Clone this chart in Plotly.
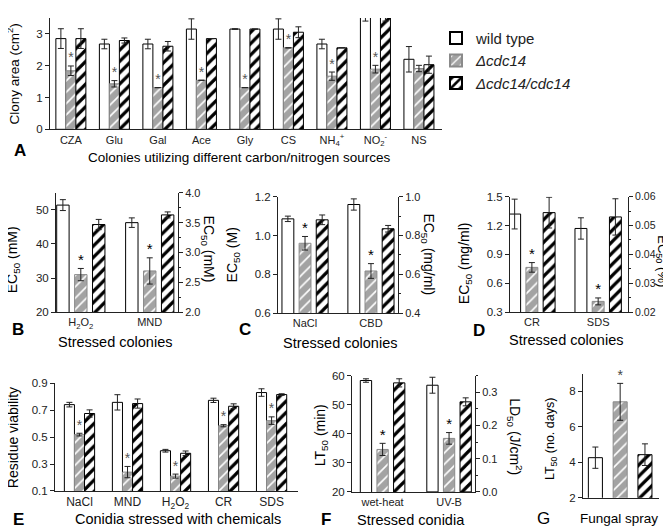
import plotly.graph_objects as go

W, H = 671, 528

# ---- panel A: colony area (cm2) on carbon / nitrogen sources
A_cats = ['CZA', 'Glu', 'Gal', 'Ace', 'Gly', 'CS', 'NH<sub>4</sub><sup>+</sup>', 'NO<sub>2</sub><sup>-</sup>', 'NS']
A_wt = [2.85, 2.68, 2.68, 3.15, 3.15, 3.15, 2.68, 3.6, 2.2]
A_wt_err = [0.31, 0.15, 0.15, 0.32, 0.01, 0.32, 0.15, 0.2, 0.4]
A_mu = [1.84, 1.43, 1.31, 1.54, 1.31, 2.56, 1.67, 1.89, 1.91]
A_mu_err = [0.15, 0.1, None, None, None, None, 0.13, 0.12, 0.1]
A_co = [2.85, 2.79, 2.61, 2.85, 3.15, 3.05, 2.56, 3.6, 2.03]
A_co_err = [0.31, 0.08, 0.15, None, None, 0.17, None, 0.2, 0.27]
A_sig = [1, 1, 1, 1, 1, 1, 1, 1, 0]

# ---- panel B: EC50, H2O2 on left axis (mM), MND on right axis (mM)
B_cats = ['H<sub>2</sub>O<sub>2</sub>', 'MND']
B_wt = [51.4, 3.50]
B_wt_err = [1.6, 0.08]
B_mu = [31.0, 2.69]
B_mu_err = [1.8, 0.22]
B_co = [45.7, 3.63]
B_co_err = [1.5, 0.05]

# ---- panel C: EC50, NaCl on left (M), CBD on right (mg/ml)
C_cats = ['NaCl', 'CBD']
C_wt = [1.086, 0.96]
C_wt_err = [0.014, 0.029]
C_mu = [0.96, 0.617]
C_mu_err = [0.035, 0.038]
C_co = [1.081, 0.835]
C_co_err = [0.025, 0.017]

# ---- panel D: EC50, CR on left (mg/ml), SDS on right (%)
D_cats = ['CR', 'SDS']
D_wt = [1.32, 0.049]
D_wt_err = [0.155, 0.0037]
D_mu = [0.765, 0.0237]
D_mu_err = [0.05, 0.0012]
D_co = [1.335, 0.053]
D_co_err = [0.16, 0.0063]

# ---- panel E: residue viability of conidia
E_cats = ['NaCl', 'MND', 'H<sub>2</sub>O<sub>2</sub>', 'CR', 'SDS']
E_wt = [0.742, 0.759, 0.399, 0.774, 0.832]
E_wt_err = [0.017, 0.057, 0.01, 0.016, 0.028]
E_mu = [0.519, 0.24, 0.21, 0.585, 0.623]
E_mu_err = [0.01, 0.042, 0.015, 0.008, 0.028]
E_co = [0.676, 0.75, 0.38, 0.73, 0.817]
E_co_err = [0.027, 0.034, 0.017, 0.018, 0.006]

# ---- panel F: wet-heat LT50 (min, left), UV-B LD50 (J/cm2, right)
F_cats = ['wet-heat', 'UV-B']
F_wt = [58.3, 0.321]
F_wt_err = [0.6, 0.024]
F_mu = [34.6, 0.161]
F_mu_err = [2.1, 0.0175]
F_co = [57.5, 0.271]
F_co_err = [1.4, 0.012]

# ---- panel G: LT50 (days) after fungal spray
G_wt = [4.26]
G_wt_err = [0.6]
G_mu = [7.41]
G_mu_err = [1.04]
G_co = [4.43]
G_co_err = [0.61]

NAMES = ['wild type', '<i>Δcdc14</i>', '<i>Δcdc14/cdc14</i>']
FONT = 'Liberation Sans, Arial, sans-serif'
INK = '#222222'

WT_STYLE = dict(color='white', line=dict(color='black', width=1))
MU_STYLE = dict(color='#a3a3a3', line=dict(color='#8a8a8a', width=1),
                pattern=dict(shape='/', fgcolor='white', fgopacity=1, size=8, solidity=0.2,
                             fillmode='overlay'))
CO_STYLE = dict(color='white', line=dict(color='black', width=1),
                pattern=dict(shape='/', fgcolor='black', fgopacity=1, size=8, solidity=0.4,
                             fillmode='overlay'))


def px_x(p):
    return p / W


def px_y(p):
    return 1 - p / H


fig = go.Figure()


def add_group(xa, ya, xs, wt, wte, mu, mue, co, coe, sig, w, s,
              legend=False, star_col='black', star_size=15):
    for vals, errs, style, name, k in zip([wt, mu, co], [wte, mue, coe],
                                          [WT_STYLE, MU_STYLE, CO_STYLE], NAMES, [-1, 0, 1]):
        fig.add_trace(go.Bar(
            x=xs, y=vals, width=w, offset=k * s - w / 2, marker=style, name=name,
            showlegend=legend, xaxis=xa, yaxis=ya,
            error_y=dict(type='data', array=errs, color=INK, thickness=1, width=3)))
    sx = [x for x, f in zip(xs, sig) if f]
    sy = [m + (e or 0) for m, e, f in zip(mu, mue, sig) if f]
    fig.add_trace(go.Scatter(
        x=sx, y=sy, mode='text', text=['*'] * len(sx), textposition='top center',
        textfont=dict(size=star_size, color=star_col, family=FONT),
        showlegend=False, xaxis=xa, yaxis=ya, cliponaxis=False, hoverinfo='skip'))


def add_two_axis(xa, ya_l, ya_r, wt, wte, mu, mue, co, coe, w, s):
    # first category belongs to the left axis, second one to the right axis
    add_group(xa, ya_l, [0], wt[:1], wte[:1], mu[:1], mue[:1], co[:1], coe[:1], [1], w, s)
    add_group(xa, ya_r, [1], wt[1:], wte[1:], mu[1:], mue[1:], co[1:], coe[1:], [1], w, s)


add_group('x', 'y', list(range(len(A_cats))), A_wt, A_wt_err, A_mu, A_mu_err, A_co, A_co_err,
          A_sig, 0.23, 0.23, legend=True, star_col='#555555', star_size=14)
add_two_axis('x2', 'y2', 'y3', B_wt, B_wt_err, B_mu, B_mu_err, B_co, B_co_err, 0.18, 0.26)
add_two_axis('x3', 'y4', 'y5', C_wt, C_wt_err, C_mu, C_mu_err, C_co, C_co_err, 0.18, 0.26)
add_two_axis('x4', 'y6', 'y7', D_wt, D_wt_err, D_mu, D_mu_err, D_co, D_co_err, 0.18, 0.26)
add_group('x5', 'y8', list(range(len(E_cats))), E_wt, E_wt_err, E_mu, E_mu_err, E_co, E_co_err,
          [1] * 5, 0.21, 0.21, star_col='#555555', star_size=14)
add_two_axis('x6', 'y9', 'y10', F_wt, F_wt_err, F_mu, F_mu_err, F_co, F_co_err, 0.17, 0.25)
add_group('x7', 'y11', [0], G_wt, G_wt_err, G_mu, G_mu_err, G_co, G_co_err, [1], 0.17, 0.3,
          star_col='#444444', star_size=14)


def xax(x0, x1, rng, anchor, cats=None, size=11):
    d = dict(domain=[px_x(x0), px_x(x1)], range=rng, anchor=anchor, showline=True,
             linecolor=INK, linewidth=1, ticks='', showgrid=False, zeroline=False,
             tickfont=dict(size=size, color=INK, family=FONT), fixedrange=True)
    if cats is None:
        d['showticklabels'] = False
    else:
        d['tickmode'] = 'array'
        d['tickvals'] = list(range(len(cats)))
        d['ticktext'] = cats
    return d


def yax(top, bot, rng, anchor, dtick, fmt, side='left', overlaying=None, minor=None,
        tick0=None, size=None):
    if size is None:
        size = 11.5 if side == 'left' else 11
    d = dict(domain=[px_y(bot), px_y(top)], range=rng, anchor=anchor, side=side,
             showline=True, linecolor=INK, linewidth=1, ticks='outside', ticklen=4,
             tickcolor=INK, dtick=dtick, tickformat=fmt, showgrid=False, zeroline=False,
             tickfont=dict(size=size, color=INK, family=FONT), fixedrange=True)
    if tick0 is not None:
        d['tick0'] = tick0
    if overlaying:
        d['overlaying'] = overlaying
    if minor:
        d['minor'] = dict(dtick=minor, ticks='outside', ticklen=2, tickcolor=INK)
    return d


layout_axes = dict(
    xaxis=xax(42, 434, [-0.48, 8.53], 'y', A_cats),
    yaxis=yax(4, 118, [0, 3.5], 'x', 1, 'd'),
    xaxis2=xax(48, 170, [-0.36, 1.41], 'y2', B_cats),
    yaxis2=yax(183, 305, [20, 55], 'x2', 10, 'd'),
    yaxis3=yax(183, 305, [2.0, 4.0], 'x2', 0.5, '.1f', side='right', overlaying='y2', minor=0.25),
    xaxis3=xax(270, 390, [-0.41, 1.41], 'y4', C_cats),
    yaxis4=yax(187, 306, [0.6, 1.2], 'x3', 0.2, '.1f', tick0=0.6),
    yaxis5=yax(187, 306, [0.4, 1.0], 'x3', 0.2, '.1f', side='right', overlaying='y4', minor=0.1, tick0=0.4),
    xaxis4=xax(502, 620, [-0.33, 1.45], 'y6', D_cats),
    yaxis6=yax(187, 305, [0.3, 1.5], 'x4', 0.3, '.1f', tick0=0.3),
    yaxis7=yax(187, 305, [0.02, 0.06], 'x4', 0.01, '.2f', side='right', overlaying='y6',
               minor=0.005, size=10.5),
    xaxis5=xax(47, 290, [-0.51, 4.55], 'y8', E_cats, size=12),
    yaxis8=yax(378, 488, [0.1, 0.9], 'x5', 0.2, '.1f', tick0=0.1),
    xaxis6=xax(344, 467, [-0.46, 1.39], 'y9', F_cats),
    yaxis9=yax(370, 489, [20, 60], 'x6', 10, 'd'),
    yaxis10=yax(370, 489, [0, 0.35], 'x6', 0.1, '.1f', side='right', overlaying='y9', minor=0.05),
    xaxis7=xax(575, 651, [-0.45, 0.47], 'y11'),
    yaxis11=yax(368, 495, [2, 9], 'x7', 2, 'd', tick0=2),
)

annotations = []


def note(text, x, y, size=14, bold=False, angle=0, color='black'):
    if bold:
        text = '<b>' + text + '</b>'
    annotations.append(dict(text=text, x=px_x(x), y=px_y(y), xref='paper', yref='paper',
                            showarrow=False, textangle=angle, xanchor='center', yanchor='middle',
                            borderpad=0, font=dict(size=size, color=color, family=FONT)))


# panel letters
for t, x, y, b in [('A', 12, 140, True), ('B', 10, 323, True), ('C', 237, 323, True),
                   ('D', 471, 324, True), ('E', 10, 517, True), ('F', 318, 517, True),
                   ('G', 535, 516, False)]:
    note(t, x, y, size=17, bold=b)

# x titles
note('Colonies utilizing different carbon/nitrogen sources', 231, 147, size=13.5)
note('Stressed colonies', 107, 336, size=14.5)
note('Stressed colonies', 332, 337, size=14.5)
note('Stressed colonies', 558, 334, size=14.5)
note('Conidia stressed with chemicals', 170, 517, size=14.5)
note('Stressed conidia', 403, 518, size=14.5)
note('Fungal spray', 611, 516, size=13.5)

# left y titles
note('Clony area (cm<sup>2</sup>)', 5, 62, size=13.5, angle=-90)
note('EC<sub>50</sub> (mM)', 5, 252, size=14, angle=-90)
note('EC<sub>50</sub> (M)', 225, 247, size=14, angle=-90)
note('EC<sub>50</sub> (mg/ml)', 457, 255, size=14, angle=-90)
note('Residue viability', 5, 434, size=14, angle=-90)
note('LT<sub>50</sub> (min)', 313, 431, size=14, angle=-90)
note('LT<sub>50</sub> (no. days)', 543, 435, size=12.5, angle=-90)

# right y titles
note('EC<sub>50</sub> (mM)', 200, 240, size=14, angle=90)
note('EC<sub>50</sub> (mg/ml)', 420, 246, size=14, angle=90)
note('EC<sub>50</sub> (%)', 654, 253, size=13, angle=90)
note('LD<sub>50</sub> (J/cm<sup>2</sup>)', 507, 432, size=14, angle=90)

fig.update_layout(
    width=W, height=H,
    margin=dict(l=0, r=0, t=0, b=0),
    paper_bgcolor='white', plot_bgcolor='white',
    barmode='overlay',
    font=dict(family=FONT, color=INK),
    annotations=annotations,
    legend=dict(x=px_x(428), y=px_y(8), xanchor='left', yanchor='top',
                font=dict(size=15, color=INK, family=FONT), bgcolor='rgba(0,0,0,0)',
                itemsizing='constant', tracegroupgap=4),
    **layout_axes
)

fig.write_html("out.html")
